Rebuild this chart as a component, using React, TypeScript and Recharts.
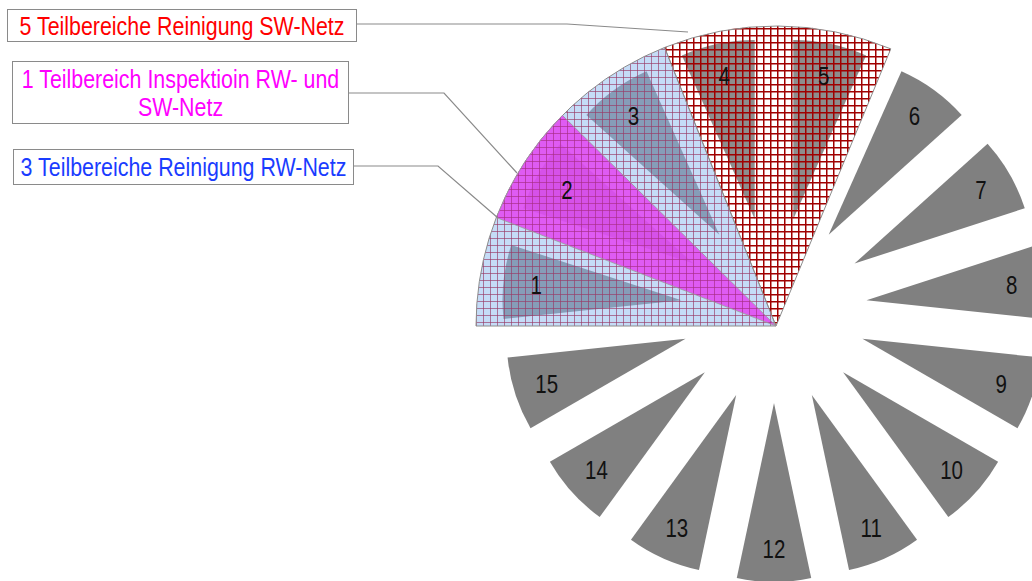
import { Cell, Pie, PieChart, Sector } from 'recharts'

const segmentLabels = ['1', '2', '3', '4', '5', '6', '7', '8', '9', '10', '11', '12', '13', '14', '15']
const segmentValues = [1, 1, 1, 1, 1, 1, 1, 1, 1, 1, 1, 1, 1, 1, 1]

// overlay sectors, sizes in degrees of the full circle
const netzNames = ['Reinigung RW-Netz', 'Reinigung SW-Netz', 'frei']
const netzAngles = [68.2, 44.3, 247.5]
const inspektionNames = ['frei', 'Inspektion RW- und SW-Netz', 'frei']
const inspektionAngles = [21.2, 23.4, 315.4]

const calloutTexts = [
  ['5 Teilbereiche Reinigung SW-Netz'],
  ['1 Teilbereich Inspektioin RW- und', 'SW-Netz'],
  ['3 Teilbereiche Reinigung RW-Netz'],
]
const calloutColors = ['#ff0000', '#ff00ff', '#1a3cff']

const RADIAN = Math.PI / 180
const PIE_CX = 774
const PIE_CY = 310
const SLICE_RADIUS = 179
const EXPLODE = 93
const LABEL_OFFSET = 146
const OVERLAY_CX = 776
const OVERLAY_CY = 326
const OVERLAY_RADIUS = 300
// text in the original is a tall narrow Arial, so stretch it vertically
const FONT = "'Liberation Sans', Arial, sans-serif"
const STRETCH = 1.22

const segmentData = segmentLabels.map((name, i) => ({ name, value: segmentValues[i] }))
const netzData = netzNames.map((name, i) => ({ name, value: netzAngles[i] }))
const inspektionData = inspektionNames.map((name, i) => ({ name, value: inspektionAngles[i] }))

export default function App() {
  return (
    <div style={{ position: 'relative', width: 1032, height: 581, background: '#fff', overflow: 'hidden' }}>
      <style>{'body { margin: 0; }'}</style>
      <PieChart width={1032} height={581} margin={{ top: 0, right: 0, bottom: 0, left: 0 }}>
        <defs>
          <pattern id="gridBlue" width="7" height="7" patternUnits="userSpaceOnUse">
            <rect width="7" height="7" fill="rgb(140,185,240)" fillOpacity={0.5} />
            <path d="M0 0.5H7M0.5 0V7" stroke="#9a3a66" strokeOpacity={0.65} strokeWidth={1} />
          </pattern>
          <pattern id="gridMagenta" width="7" height="7" patternUnits="userSpaceOnUse">
            <rect width="7" height="7" fill="#e444f2" fillOpacity={0.85} />
            <path d="M0 0.5H7M0.5 0V7" stroke="#a0307a" strokeOpacity={0.55} strokeWidth={1} />
          </pattern>
          <pattern id="gridRed" width="7" height="7" patternUnits="userSpaceOnUse">
            <rect width="7" height="7" fill="#ffffff" fillOpacity={0.1} />
            <path d="M0 0.75H7M0.75 0V7" stroke="#a00000" strokeWidth={1.5} />
          </pattern>
        </defs>

        <Pie
          data={segmentData}
          dataKey="value"
          cx={PIE_CX}
          cy={PIE_CY}
          innerRadius={0}
          outerRadius={SLICE_RADIUS}
          startAngle={186}
          endAngle={-174}
          fill="#808080"
          stroke="none"
          shape={ExplodedSlice}
          isAnimationActive={false}
        />

        <Pie
          data={netzData}
          dataKey="value"
          cx={OVERLAY_CX}
          cy={OVERLAY_CY}
          innerRadius={0}
          outerRadius={OVERLAY_RADIUS}
          startAngle={180}
          endAngle={-180}
          isAnimationActive={false}
        >
          <Cell fill="url(#gridBlue)" stroke="#8c8c8c" strokeWidth={1} />
          <Cell fill="url(#gridRed)" stroke="#8c8c8c" strokeWidth={1} />
          <Cell fill="none" stroke="none" />
        </Pie>

        <Pie
          data={inspektionData}
          dataKey="value"
          cx={OVERLAY_CX}
          cy={OVERLAY_CY}
          innerRadius={0}
          outerRadius={OVERLAY_RADIUS}
          startAngle={180}
          endAngle={-180}
          isAnimationActive={false}
        >
          <Cell fill="none" stroke="none" />
          <Cell fill="url(#gridMagenta)" stroke="#9a9a9a" strokeWidth={0.8} />
          <Cell fill="none" stroke="none" />
        </Pie>

        <Pie
          data={segmentData}
          dataKey="value"
          cx={PIE_CX}
          cy={PIE_CY}
          innerRadius={0}
          outerRadius={SLICE_RADIUS}
          startAngle={186}
          endAngle={-174}
          fill="none"
          stroke="none"
          label={renderNumber}
          labelLine={false}
          isAnimationActive={false}
        />
      </PieChart>

      <svg width={1032} height={581} style={{ position: 'absolute', left: 0, top: 0, pointerEvents: 'none' }}>
        <polyline points="357,24 567,24 688,32" fill="none" stroke="#8a8a8a" strokeWidth={1.2} />
        <polyline points="349,93 444,93 517,173" fill="none" stroke="#8a8a8a" strokeWidth={1.2} />
        <polyline points="354,166 438,166 498,218" fill="none" stroke="#8a8a8a" strokeWidth={1.2} />
      </svg>

      <Callout left={7} top={9} width={350} height={33} lines={calloutTexts[0]} color={calloutColors[0]} />
      <Callout left={12} top={61} width={337} height={63} lines={calloutTexts[1]} color={calloutColors[1]} />
      <Callout left={13} top={149} width={341} height={36} lines={calloutTexts[2]} color={calloutColors[2]} />
    </div>
  )
}

function ExplodedSlice(props: any) {
  const { cx, cy, midAngle, outerRadius, startAngle, endAngle, fill } = props
  const dx = EXPLODE * Math.cos(-midAngle * RADIAN)
  const dy = EXPLODE * Math.sin(-midAngle * RADIAN)
  return (
    <Sector
      cx={cx + dx}
      cy={cy + dy}
      innerRadius={0}
      outerRadius={outerRadius}
      startAngle={startAngle}
      endAngle={endAngle}
      fill={fill}
      stroke="none"
    />
  )
}

function renderNumber(props: any) {
  const { cx, cy, midAngle, index } = props
  const r = EXPLODE + LABEL_OFFSET
  const x = cx + r * Math.cos(-midAngle * RADIAN)
  const y = cy + r * Math.sin(-midAngle * RADIAN)
  return (
    <text
      key={index}
      transform={`translate(${x},${y}) scale(1,${STRETCH})`}
      textAnchor="middle"
      dominantBaseline="central"
      fill="#111"
      style={{ fontFamily: FONT, fontSize: 20.5 }}
    >
      {segmentLabels[index]}
    </text>
  )
}

function Callout({ left, top, width, height, lines, color }: {
  left: number
  top: number
  width: number
  height: number
  lines: string[]
  color: string
}) {
  return (
    <div style={{
      position: 'absolute',
      left,
      top,
      width,
      height,
      boxSizing: 'border-box',
      border: '1.5px solid #8a8a8a',
      background: '#fff',
      color,
      fontFamily: FONT,
      fontSize: 21.4,
      lineHeight: '28px',
      textAlign: 'center',
      display: 'flex',
      flexDirection: 'column',
      justifyContent: 'center',
      whiteSpace: 'nowrap',
    }}>
      {lines.map(line => (
        <div key={line} style={{ transform: `scaleY(${STRETCH})` }}>{line}</div>
      ))}
    </div>
  )
}
